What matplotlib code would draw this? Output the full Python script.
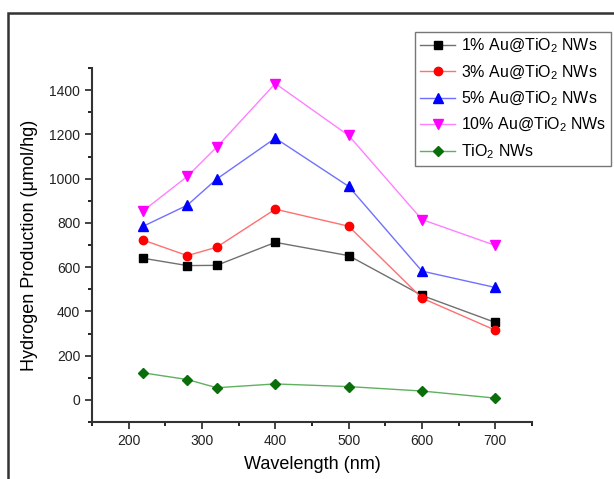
import matplotlib.pyplot as plt
from matplotlib.patches import Rectangle
from matplotlib.ticker import MultipleLocator

plt.rcParams['font.family'] = ['Liberation Sans', 'DejaVu Sans']
plt.rcParams['mathtext.fontset'] = 'custom'
plt.rcParams['mathtext.rm'] = 'Liberation Sans'
plt.rcParams['mathtext.default'] = 'regular'

wavelength = [220, 280, 320, 400, 500, 600, 700]
au1 = [640, 607, 608, 712, 652, 472, 350]
au3 = [722, 652, 690, 862, 785, 460, 315]
au5 = [785, 880, 998, 1183, 965, 582, 508]
au10 = [855, 1010, 1142, 1430, 1195, 815, 698]
tio2 = [122, 92, 55, 72, 60, 40, 8]

labels = ['1% Au@TiO$_2$ NWs', '3% Au@TiO$_2$ NWs', '5% Au@TiO$_2$ NWs',
          '10% Au@TiO$_2$ NWs', 'TiO$_2$ NWs']
series = [au1, au3, au5, au10, tio2]
marker_colors = ['black', 'red', 'blue', 'magenta', '#0a6e0a']
line_colors = ['#707070', '#ff7070', '#7070ff', '#ff80ff', '#60b060']
markers = ['s', 'o', '^', 'v', 'D']
msizes = [5.5, 6, 6.5, 6.5, 5.5]

fig = plt.figure(figsize=(6.14, 4.79), dpi=100)
ax = fig.add_axes([0.1498, 0.119, 0.7166, 0.739])

for y, lab, mc, lc, m, ms in zip(series, labels, marker_colors, line_colors, markers, msizes):
    ax.plot(wavelength, y, color=lc, lw=1, marker=m, markersize=ms,
            markerfacecolor=mc, markeredgecolor=mc, label=lab)

ax.set_xlim(150, 750)
ax.set_ylim(-100, 1500)
ax.xaxis.set_major_locator(MultipleLocator(100))
ax.xaxis.set_minor_locator(MultipleLocator(50))
ax.yaxis.set_major_locator(MultipleLocator(200))
ax.yaxis.set_minor_locator(MultipleLocator(100))
ax.set_xticks([200, 300, 400, 500, 600, 700])
ax.tick_params(which='major', direction='out', length=5, width=1.2, labelsize=10, colors='#222222')
ax.tick_params(which='minor', direction='out', length=3, width=1.2)
ax.spines['top'].set_visible(False)
ax.spines['right'].set_visible(False)
ax.spines['left'].set_linewidth(1.5)
ax.spines['bottom'].set_linewidth(1.5)
ax.spines['left'].set_color('#333333')
ax.spines['bottom'].set_color('#333333')

ax.set_xlabel('Wavelength (nm)', fontsize=13, labelpad=6)
ax.set_ylabel('Hydrogen Production (μmol/hg)', fontsize=13, labelpad=8)

leg = ax.legend(loc='upper right', bbox_to_anchor=(611 / 614, 1 - 32 / 479),
                bbox_transform=fig.transFigure,
                fontsize=11.5, frameon=True, fancybox=False, handlelength=2.2,
                handletextpad=0.35, borderpad=0.3, labelspacing=0.5, borderaxespad=0)
leg.get_frame().set_edgecolor('#555555')
leg.get_frame().set_linewidth(1)

fig.patches.append(Rectangle((8 / 614, -0.1), 1.2, (479 - 13) / 479 + 0.1,
                             transform=fig.transFigure, fill=False,
                             edgecolor='#333333', linewidth=1.8))

fig.savefig('out.png', dpi=100)
